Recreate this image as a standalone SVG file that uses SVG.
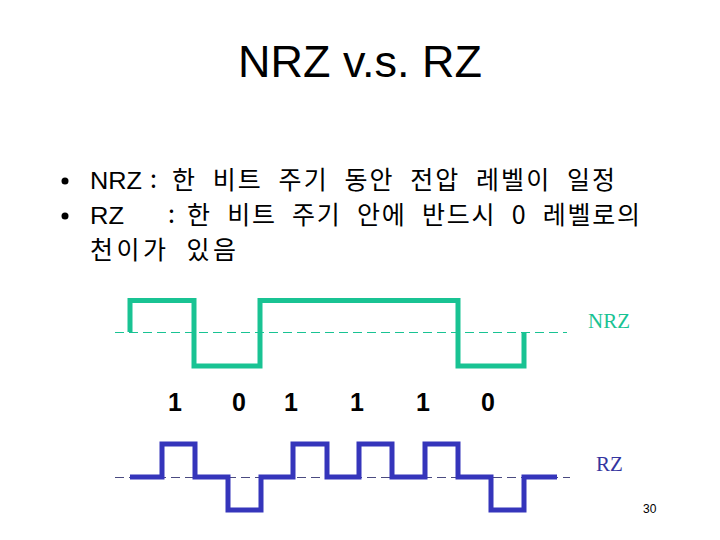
<svg xmlns="http://www.w3.org/2000/svg" width="720" height="540" viewBox="0 0 720 540">
<style>
.title{font-family:"Liberation Sans","DejaVu Sans",sans-serif;font-size:45px;fill:#000}
.lat{font-family:"Liberation Sans","DejaVu Sans",sans-serif;font-size:24px;fill:#000}
.kr{font-family:"Noto Sans CJK KR","Liberation Sans",sans-serif;font-size:25px;fill:#000;word-spacing:8px}
.bit{font-family:"Liberation Sans",Arial,sans-serif;font-size:25px;font-weight:bold;fill:#000;text-anchor:middle}
.lbl{font-family:"Liberation Serif","Times New Roman",serif;font-size:21px}
.pg{font-family:"Liberation Sans",sans-serif;font-size:12px;fill:#000}
.wave{fill:none;stroke-width:5;stroke-linejoin:miter;stroke-linecap:butt}
.dash{fill:none;stroke-width:1.2;stroke-dasharray:9 5}
</style>
<rect width="720" height="540" fill="#fff"/>
<g id="title"><text class="title" x="360" y="77" text-anchor="middle" textLength="244" lengthAdjust="spacingAndGlyphs">NRZ v.s. RZ</text></g>
<g id="bullets">
<circle cx="65" cy="181" r="3.5" fill="#000"/>
<text class="lat" x="90" y="189" textLength="52" lengthAdjust="spacingAndGlyphs">NRZ</text>
<text class="kr" x="150" y="188">:</text>
<text class="kr" x="172" y="189" textLength="443" lengthAdjust="spacing">한 비트 주기 동안 전압 레벨이 일정</text>
<circle cx="65" cy="216" r="3.5" fill="#000"/>
<text class="lat" x="90" y="224" textLength="34" lengthAdjust="spacingAndGlyphs">RZ</text>
<text class="kr" x="168" y="223">:</text>
<text class="kr" x="187" y="224" textLength="453" lengthAdjust="spacing">한 비트 주기 안에 반드시 0 레벨로의</text>
<text class="kr" x="90" y="259" textLength="146" lengthAdjust="spacing">천이가 있음</text>
</g>
<g id="nrz">
<line class="dash" x1="115" y1="332.5" x2="567" y2="332.5" stroke="#19C393"/>
<path class="wave" stroke="#19C393" d="M130,332 V300.5 H194 V366 H260 V300.5 H458 V366 H524 V332"/>
<text class="lbl" x="588" y="328" fill="#19C393">NRZ</text>
</g>
<g id="bits">
<text class="bit" x="175" y="411">1</text>
<text class="bit" x="239" y="411">0</text>
<text class="bit" x="291" y="411">1</text>
<text class="bit" x="357" y="411">1</text>
<text class="bit" x="423" y="411">1</text>
<text class="bit" x="488" y="411">0</text>
</g>
<g id="rz">
<line class="dash" x1="115" y1="477.5" x2="570" y2="477.5" stroke="#4A4A80"/>
<path class="wave" stroke="#3535BB" d="M130,477 H162 V444 H195 V477 H228 V510 H261 V477 H293 V444 H327 V477 H359 V444 H392 V477 H425 V444 H458 V477 H491 V510 H524 V477 H557"/>
<text class="lbl" x="596" y="471" fill="#3535A0">RZ</text>
</g>
<g id="page"><text class="pg" x="643" y="513">30</text></g>
</svg>
